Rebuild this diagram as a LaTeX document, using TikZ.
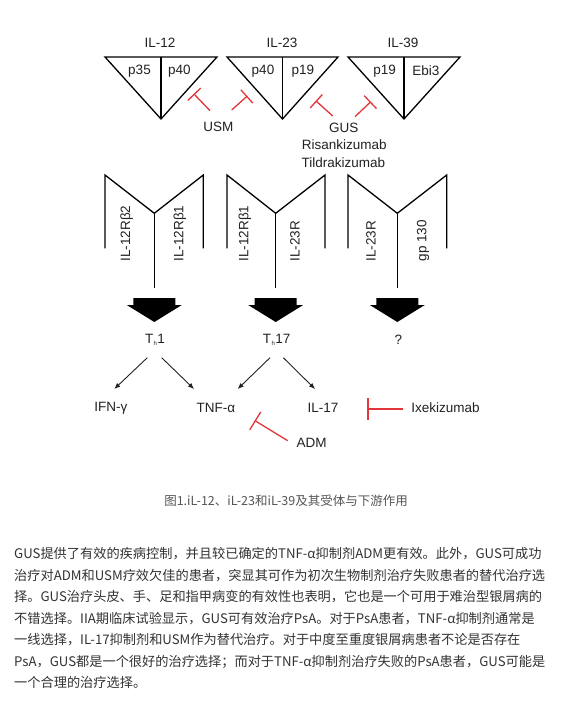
\documentclass[tikz,border=0pt]{standalone}
\usepackage{fontspec}
\setmainfont{Liberation Sans}
\newfontfamily\cjk{Noto Sans CJK SC}
\usetikzlibrary{arrows.meta}
\definecolor{inhred}{RGB}{226,54,58}
\definecolor{txt}{RGB}{34,34,34}
\definecolor{bodytxt}{RGB}{51,51,51}
\definecolor{capgray}{RGB}{85,85,85}
\XeTeXlinebreaklocale "zh"
\XeTeXlinebreakskip=0pt plus 3pt minus 1pt
\newcommand\jline[1]{\hbox to 530pt{#1}}
\newcommand\thsub[1]{T\kern0.3pt\raisebox{-2.5pt}{\fontsize{6}{6}\selectfont h}\kern0.6pt #1}
\begin{document}
\begin{tikzpicture}[x=1pt,y=-1pt,
  lbl/.style={inner sep=0pt, text=txt, font=\fontsize{13.5}{14}\selectfont},
  rlbl/.style={lbl, rotate=90, anchor=west},
  shp/.style={draw=black, line width=1.3pt, line join=miter},
  inh/.style={draw=inhred, line width=1.3pt, -{Bar[width=#1, line width=1.3pt]}},
  inh/.default=18pt,
  arr/.style={draw=txt, line width=0.9pt, -{Latex[length=6pt,width=5pt]}},
  bodyline/.style={anchor=base west, inner sep=0pt, text=bodytxt, font=\cjk\fontsize{13.2}{13.2}\selectfont},
  blk/.pic={\fill[black] (-21,0) -- (21,0) -- (21,7) -- (27.5,7) -- (0,24) -- (-27.5,7) -- (-21,7) -- cycle;}
]
\useasboundingbox (0,0) rectangle (577,711);
\fill[white] (0,0) rectangle (577,711);

% ---- cytokines ----
\node[lbl] (il12) at (160,43) {IL-12};
\node[lbl] (il23) at (282,43) {IL-23};
\node[lbl] (il39) at (403,43) {IL-39};

\draw[shp] (105,57) -- (217,57) -- (161,119) -- cycle;
\draw[shp] (161,57) -- (161,119);
\draw[shp] (227,57) -- (338,57) -- (282.5,119) -- cycle;
\draw[shp] (282.5,57) -- (282.5,119);
\draw[shp] (348,57) -- (460,57) -- (404,119) -- cycle;
\draw[shp] (404,57) -- (404,119);

\node[lbl] (p35) at (139.5,71) {p35};
\node[lbl] (p40a) at (179.3,71) {p40};
\node[lbl] (p40b) at (263,71) {p40};
\node[lbl] (p19a) at (302.8,71) {p19};
\node[lbl] (p19b) at (384.7,71) {p19};
\node[lbl] (ebi3) at (425.8,71) {Ebi3};

% ---- inhibitors (top) ----
\node[lbl] (usm) at (218.3,126.7) {USM};
\node[lbl] (gus) at (343.8,128) {GUS};
\node[lbl] (risa) at (344.2,145) {Risankizumab};
\node[lbl] (tild) at (343.5,162.5) {Tildrakizumab};

\coordinate (s1) at (210,110.7);   \coordinate (b1) at (193.8,93.8);
\coordinate (s2) at (231.7,110);   \coordinate (b2) at (247.3,96);
\coordinate (s3) at (332.7,116);   \coordinate (b3) at (315.8,100.8);
\coordinate (s4) at (355,116.7);   \coordinate (b4) at (370.8,101.7);
\draw[inh] (s1) -- (b1);
\draw[inh] (s2) -- (b2);
\draw[inh] (s3) -- (b3);
\draw[inh] (s4) -- (b4);

% ---- receptors ----
\coordinate (j1) at (154.3,213.3);
\coordinate (j2) at (275.7,213.3);
\coordinate (j3) at (397.3,213.3);
\draw[shp] (105,248.3) -- (105,175) -- (j1) -- (203.3,175) -- (203.3,248.3);
\draw[shp] (227,248.3) -- (227,175) -- (j2) -- (325,175) -- (325,248.3);
\draw[shp] (348,248.3) -- (348,175) -- (j3) -- (446.7,175) -- (446.7,248.3);
\coordinate (e1) at (154.3,288);
\coordinate (e2) at (275.7,288);
\coordinate (e3) at (397.3,288);
\draw[shp] (j1) -- (e1);
\draw[shp] (j2) -- (e2);
\draw[shp] (j3) -- (e3);

\node[rlbl] (r1a) at (126.7,261.7) {IL-12Rβ2};
\node[rlbl] (r1b) at (180,261.7) {IL-12Rβ1};
\node[rlbl] (r2a) at (245,261.7) {IL-12Rβ1};
\node[rlbl] (r2b) at (295,261.7) {IL-23R};
\node[rlbl] (r3a) at (371,261.7) {IL-23R};
\node[rlbl] (r3b) at (423,261.7) {gp 130};

\pic at (154.3,298) {blk};
\pic at (275.7,298) {blk};
\pic at (397.3,298) {blk};

% ---- cells ----
\node[lbl] (th1) at (155,340) {\thsub{1}};
\node[lbl] (th17) at (276.7,340) {\thsub{17}};
\node[lbl] (q) at (398.3,340) {?};

\node[lbl] (ifn) at (110.8,408) {IFN-γ};
\node[lbl] (tnf) at (216,408) {TNF-α};
\node[lbl] (il17) at (323,408) {IL-17};
\node[lbl] (ixe) at (445.5,408) {Ixekizumab};
\node[lbl] (adm) at (311.7,442.7) {ADM};

\coordinate (a1s) at (147.3,357.7); \coordinate (a1e) at (114.3,389);
\coordinate (a2s) at (161.7,357.7); \coordinate (a2e) at (194,389);
\coordinate (a3s) at (270,357.7);   \coordinate (a3e) at (237.7,389);
\coordinate (a4s) at (283.3,357.7); \coordinate (a4e) at (315,389);
\draw[arr] (a1s) -- (a1e);
\draw[arr] (a2s) -- (a2e);
\draw[arr] (a3s) -- (a3e);
\draw[arr] (a4s) -- (a4e);

\coordinate (s5) at (287.7,440.7); \coordinate (b5) at (254.7,420.5);
\coordinate (s6) at (403.3,409);   \coordinate (b6) at (367.3,409);
\draw[inh=21pt] (s5) -- (b5);
\draw[inh=22pt] (s6) -- (b6);

% ---- caption ----
\node[inner sep=0pt, text=capgray, font=\cjk\fontsize{12.5}{12.5}\selectfont] (cap) at (286,501) {图1.iL-12、iL-23和iL-39及其受体与下游作用};

% ---- body text ----
\node[bodyline] (l1) at (14,558.5) {\jline{GUS提供了有效的疾病控制，并且较已确定的TNF-α抑制剂ADM更有效。此外，GUS可成功}};
\node[bodyline] (l2) at (14,580) {\jline{治疗对ADM和USM疗效欠佳的患者，突显其可作为初次生物制剂治疗失败患者的替代治疗选}};
\node[bodyline] (l3) at (14,601.5) {\jline{择。GUS治疗头皮、手、足和指甲病变的有效性也表明，它也是一个可用于难治型银屑病的}};
\node[bodyline] (l4) at (14,623) {\jline{不错选择。IIA期临床试验显示，GUS可有效治疗PsA。对于PsA患者，TNF-α抑制剂通常是}};
\node[bodyline] (l5) at (14,644.5) {\jline{一线选择，IL-17抑制剂和USM作为替代治疗。对于中度至重度银屑病患者不论是否存在}};
\node[bodyline] (l6) at (14,666) {\jline{PsA，GUS都是一个很好的治疗选择；而对于TNF-α抑制剂治疗失败的PsA患者，GUS可能是}};
\node[bodyline] (l7) at (14,687.5) {一个合理的治疗选择。};
\end{tikzpicture}
\end{document}
